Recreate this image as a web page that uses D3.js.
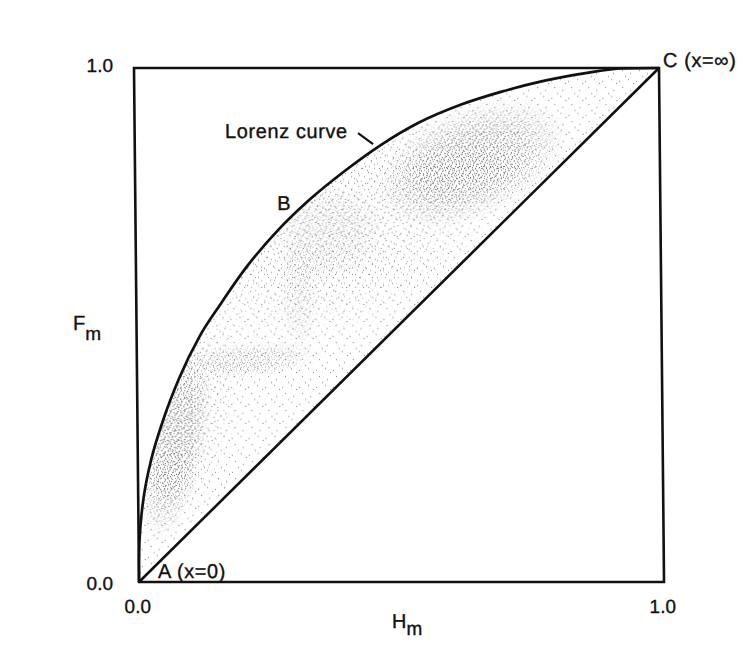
<!DOCTYPE html>
<html>
<head>
<meta charset="utf-8">
<script src="https://cdn.jsdelivr.net/npm/d3@7"></script>
<style>
  html, body { margin: 0; padding: 0; background: #fff; }
  svg { display: block; font-family: "Liberation Sans", Arial, Helvetica, sans-serif; }
</style>
</head>
<body>
<svg id="chart" width="752" height="664"></svg>
<script>
// Lorenz curve: cumulative share F_m plotted against cumulative share H_m
const lorenzH = [0, 0.0003, 0.001, 0.003, 0.006, 0.01, 0.015, 0.025, 0.05, 0.08, 0.12, 0.16, 0.21, 0.27, 0.33, 0.40, 0.47, 0.54, 0.62, 0.70, 0.78, 0.86, 0.93, 1];
const lorenzF = [0, 0.038, 0.063, 0.099, 0.131, 0.162, 0.191, 0.236, 0.318, 0.396, 0.478, 0.540, 0.612, 0.683, 0.742, 0.800, 0.851, 0.893, 0.928, 0.954, 0.975, 0.990, 0.999, 1];

// line of equality, from A (x=0) to C (x=∞)
const equalityH = [0, 1];
const equalityF = [0, 1];

const axisTicks = [0, 1];
const axisTickLabels = ["0.0", "1.0"];

// ---------------------------------------------------------------
const W = 525, Hgt = 514;
const FONT = "'Liberation Sans', Arial, Helvetica, sans-serif";
const INK = "#111";
const x = d3.scaleLinear().domain([0, 1]).range([0, W]);
const y = d3.scaleLinear().domain([0, 1]).range([Hgt, 0]);

const svg = d3.select("#chart");
const defs = svg.append("defs");

// stipple tiles: hand-placed dots, several tile sizes layered so the grain looks irregular
const tiles = {
  dA: { size: 7,  dots: [[1,1],[4,2],[2,4],[6,5],[5,0]], ink: "#666" },
  dB: { size: 11, dots: [[0,3],[3,0],[7,2],[9,6],[5,5],[2,8],[8,9],[5,10],[10,1]], ink: "#666" },
  sD: { size: 13, dots: [[2,1],[8,4],[5,9],[11,11],[0,7]], ink: "#777" },
  sE: { size: 17, dots: [[3,5],[12,2],[9,13],[15,8],[6,15],[1,11]], ink: "#777" }
};
Object.entries(tiles).forEach(([id, t]) => {
  const p = defs.append("pattern")
    .attr("id", "st-" + id)
    .attr("patternUnits", "userSpaceOnUse")
    .attr("width", t.size).attr("height", t.size);
  p.selectAll("rect").data(t.dots).join("rect")
    .attr("x", d => d[0]).attr("y", d => d[1])
    .attr("width", 1).attr("height", 1)
    .attr("fill", t.ink);
});

// soft-edged gradient used by the stipple patches
const rg = defs.append("radialGradient").attr("id", "patchFade");
rg.append("stop").attr("offset", "0%").attr("stop-color", "#fff").attr("stop-opacity", 1);
rg.append("stop").attr("offset", "50%").attr("stop-color", "#fff").attr("stop-opacity", 0.85);
rg.append("stop").attr("offset", "100%").attr("stop-color", "#fff").attr("stop-opacity", 0);

// region between the Lorenz curve and the line of equality
const lorenz = lorenzH.map((h, i) => ({ h, f: lorenzF[i] }));
const regionArea = d3.area()
  .x(d => x(d.h))
  .y0(d => y(d.h))
  .y1(d => y(d.f))
  .curve(d3.curveMonotoneX);
defs.append("clipPath").attr("id", "lorenzRegion")
  .append("path").attr("d", regionArea(lorenz));

// stipple patches (centre H, F; half-widths in H, F units; tilt; strength)
const densePatches = [
  { h: 0.072, f: 0.27,  rh: 0.060, rf: 0.200, tilt: 12,  k: 1.0 },
  { h: 0.215, f: 0.432, rh: 0.140, rf: 0.035, tilt: -4,  k: 0.6 },
  { h: 0.640, f: 0.815, rh: 0.200, rf: 0.110, tilt: -24, k: 1.0 },
  { h: 0.370, f: 0.680, rh: 0.115, rf: 0.100, tilt: -20, k: 0.45 },
  { h: 0.310, f: 0.560, rh: 0.040, rf: 0.120, tilt: 0,   k: 0.35 }
];
const mediumPatches = [
  { h: 0.40, f: 0.70, rh: 0.36, rf: 0.22, tilt: -30, k: 1.0 },
  { h: 0.10, f: 0.33, rh: 0.10, rf: 0.24, tilt: 12,  k: 1.0 }
];
function addMask(id, patches) {
  const m = defs.append("mask").attr("id", id)
    .attr("maskUnits", "userSpaceOnUse")
    .attr("x", -20).attr("y", -20).attr("width", W + 40).attr("height", Hgt + 40);
  m.selectAll("ellipse").data(patches).join("ellipse")
    .attr("cx", 0).attr("cy", 0)
    .attr("rx", d => x(d.rh) - x(0))
    .attr("ry", d => y(0) - y(d.rf))
    .attr("transform", d => `translate(${x(d.h)},${y(d.f)}) rotate(${d.tilt})`)
    .attr("fill", "url(#patchFade)")
    .attr("opacity", d => d.k);
}
addMask("denseMask", densePatches);
addMask("mediumMask", mediumPatches);

// plot frame (slightly sheared, as printed)
const plot = svg.append("g").attr("transform", "translate(134,68) skewX(0.56)");

function stippleLayer(ids, maskId) {
  let g = plot.append("g").attr("clip-path", "url(#lorenzRegion)");
  if (maskId) g = g.append("g").attr("mask", `url(#${maskId})`);
  ids.forEach(id => {
    g.append("rect").attr("width", W).attr("height", Hgt).attr("fill", `url(#st-${id})`);
  });
}
stippleLayer(["sE"]);                 // faint grain everywhere
stippleLayer(["sD"], "mediumMask");   // moderate grain in the upper and left parts
stippleLayer(["dA", "dB"], "denseMask"); // dense clusters

// frame
plot.append("rect")
  .attr("x", x(0)).attr("y", y(1))
  .attr("width", x(1) - x(0)).attr("height", y(0) - y(1))
  .attr("fill", "none").attr("stroke", INK).attr("stroke-width", 2.6);

// line of equality
const equality = equalityH.map((h, i) => ({ h, f: equalityF[i] }));
plot.append("path")
  .attr("d", d3.line().x(d => x(d.h)).y(d => y(d.f))(equality))
  .attr("fill", "none").attr("stroke", INK).attr("stroke-width", 2.6);

// Lorenz curve
plot.append("path")
  .attr("d", d3.line().x(d => x(d.h)).y(d => y(d.f)).curve(d3.curveMonotoneX)(lorenz))
  .attr("fill", "none").attr("stroke", INK).attr("stroke-width", 2.7)
  .attr("stroke-linejoin", "round");

// text helper: slightly heavier than regular weight
function ink(sel, size) {
  return sel.attr("font-family", FONT).attr("font-size", size)
    .attr("fill", INK).attr("stroke", INK).attr("stroke-width", 0.35);
}

// x-axis tick labels
const xAxis = plot.append("g")
  .attr("transform", `translate(-2,${Hgt})`)
  .call(d3.axisBottom(x).tickValues(axisTicks)
    .tickFormat((d, i) => axisTickLabels[i]).tickSize(0).tickPadding(17.5));
xAxis.select(".domain").remove();
ink(xAxis.selectAll("text"), 19);

// y-axis tick labels (upright, outside the sheared frame)
const yAxis = svg.append("g").attr("transform", "translate(134,68)")
  .call(d3.axisLeft(y).tickValues(axisTicks)
    .tickFormat((d, i) => axisTickLabels[i]).tickSize(0).tickPadding(21));
yAxis.select(".domain").remove();
ink(yAxis.selectAll("text"), 19)
  .attr("dy", d => d === 1 ? "0.2em" : "0.42em");

// axis titles
const titles = svg.append("g").attr("transform", "translate(134,68)");
const fTitle = ink(titles.append("text"), 20)
  .attr("text-anchor", "start")
  .attr("x", -61).attr("y", y(0.49));
fTitle.append("tspan").text("F");
fTitle.append("tspan").attr("dy", 10).attr("font-size", 19).text("m");

const hTitle = ink(plot.append("text"), 20)
  .attr("text-anchor", "start")
  .attr("x", x(0.481)).attr("y", y(0) + 46);
hTitle.append("tspan").text("H");
hTitle.append("tspan").attr("dy", 7).attr("font-size", 19).text("m");

// annotations
const ann = plot.append("g").attr("letter-spacing", 0.6);
ink(ann.append("text"), 20).attr("x", x(0.172)).attr("y", y(0.864)).text("Lorenz curve");
ink(ann.append("text"), 20).attr("x", x(0.27)).attr("y", y(0.724)).text("B");
ink(ann.append("text"), 20).attr("x", x(1) + 4).attr("y", y(1) - 1).text("C (x=\u221E)");
ink(ann.append("text"), 20).attr("x", x(0) + 19).attr("y", y(0) - 4).text("A (x=0)");

// leader from the label to the curve
plot.append("line")
  .attr("x1", x(0.4255)).attr("y1", y(0.8735))
  .attr("x2", x(0.454)).attr("y2", y(0.852))
  .attr("stroke", INK).attr("stroke-width", 2.2);
</script>
</body>
</html>
